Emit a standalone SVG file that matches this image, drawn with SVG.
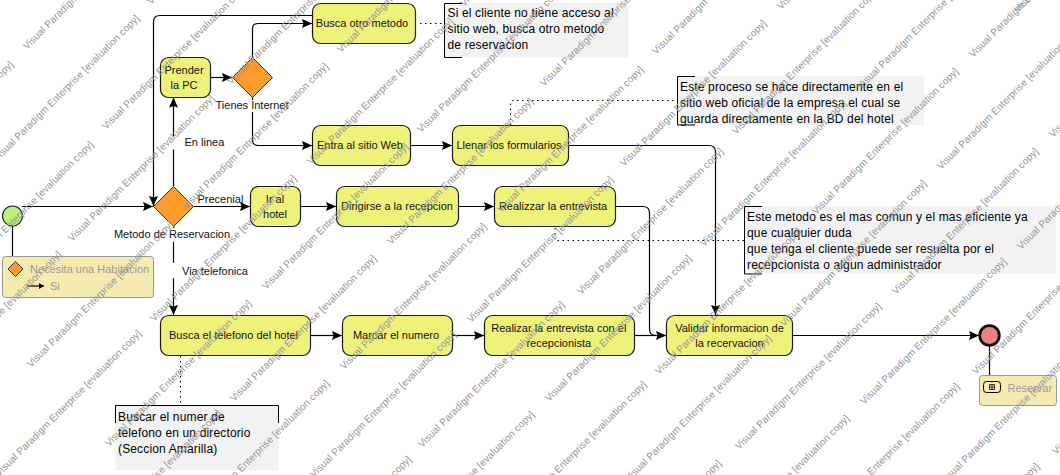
<svg xmlns="http://www.w3.org/2000/svg" width="1060" height="475" viewBox="0 0 1060 475">
<style>
text{font-family:"Liberation Sans",Arial,sans-serif;font-size:11px;fill:#111}
.task{fill:#EFF27A;stroke:#1a1a1a;stroke-width:1.2}
.gw{fill:#FF9A2B;stroke:#333;stroke-width:1}
.c{fill:none;stroke:#000;stroke-width:1.2}
.a{marker-end:url(#arr)}
.d{fill:none;stroke:#000;stroke-width:1;stroke-dasharray:1.5 3.5}
.mid{text-anchor:middle}
.nb{fill:#F2F2F2}
.nl{fill:none;stroke:#000;stroke-width:1}
.nt{font-size:12px;letter-spacing:.15px;fill:#000}
.tb{fill:#F5EBB0;stroke:#999;stroke-width:1}
.gr{fill:#999}
.wm{font-size:10px;letter-spacing:.08px;fill:#979797;text-anchor:end}
</style>
<defs>
<marker id="arr" markerUnits="userSpaceOnUse" markerWidth="11" markerHeight="10" refX="10" refY="4.5" orient="auto"><path d="M0 0L10 4.5L0 9L1.5 4.5Z" fill="#000"/></marker>
<marker id="arrs" markerUnits="userSpaceOnUse" markerWidth="7" markerHeight="7" refX="5" refY="3" orient="auto"><path d="M0 0L5 3L0 6Z" fill="#000"/></marker>
</defs>
<g id="connectors">
<path class="c a" d="M22 206.500H153"/>
<path class="c a" d="M173.500 186V149.500M173.500 136.500V97.500"/>
<path class="c a" d="M210.500 77.500H232"/>
<path class="c a" d="M252.500 57V29Q252.500 23.500 258 23.500H312"/>
<path class="c a" d="M252.500 97V100M252.500 112V139.500Q252.500 145.500 258 145.500H312"/>
<path class="c a" d="M312.500 15.500H160Q153.500 15.500 153.500 22V206"/>
<path class="c a" d="M193 206.500H250"/>
<path class="c a" d="M300.500 206.500H336"/>
<path class="c a" d="M458.500 206.500H494"/>
<path class="c a" d="M410.500 145.500H452"/>
<path class="c a" d="M568.500 145.500H709Q715.500 145.500 715.500 152V315"/>
<path class="c a" d="M615.500 206.500H643Q649.500 206.500 649.500 213V329Q649.500 335.500 656 335.500H666"/>
<path class="c a" d="M173.500 226V228M173.500 241.700V262.700M173.500 278.300V315"/>
<path class="c a" d="M310.500 335.500H342"/>
<path class="c a" d="M452.500 335.500H484"/>
<path class="c" d="M634.500 335.500H666"/>
<path class="c a" d="M792.500 335.500H979"/>
<path class="c" d="M12.500 226V257"/>
<path class="c" d="M989.500 345V376"/>
<path class="d" d="M420 23.500H444"/>
<path class="d" d="M510.500 125V103Q510.500 100.500 513 100.500H677"/>
<path class="d" d="M555 228V240.500H744"/>
<path class="d" d="M180.500 356V405"/>
</g>
<g id="start"><circle cx="12.500" cy="216" r="10" fill="#BDEF7C" stroke="#222" stroke-width="1.200"/></g>
<g id="condition">
<rect class="tb" x="2.500" y="256.500" width="151" height="41" rx="3"/>
<path class="gw" d="M15.500 261.500L23 269L15.500 276.500L8 269Z"/>
<text class="gr" x="30" y="273">Necesita una Habitacion</text>
<path class="c" style="marker-end:url(#arrs)" d="M27 286H44"/>
<text class="gr" x="50" y="290">Si</text>
</g>
<g id="gw-metodo"><path class="gw" d="M173.500 186.500L193.500 206.500L173.500 226.500L153.500 206.500Z"/>
<text class="mid" x="172" y="238">Metodo de Reservacion</text></g>
<g id="lbl-enlinea"><text x="184.500" y="146">En linea</text></g>
<g id="lbl-precenial"><text x="197.500" y="203">Precenial</text></g>
<g id="lbl-via"><text x="182" y="275">Via telefonica</text></g>
<g id="t-prender"><rect class="task" x="160.500" y="57.500" width="50" height="40" rx="8"/>
<text class="mid" x="184" y="74">Prender</text><text class="mid" x="184" y="89">la PC</text></g>
<g id="gw-internet"><path class="gw" d="M252.500 57.500L272.500 77.500L252.500 97.500L232.500 77.500Z"/>
<text class="mid" x="252" y="109">Tienes Internet</text></g>
<g id="t-busca"><rect class="task" x="312.500" y="3.500" width="103" height="40" rx="8"/>
<text class="mid" x="362" y="27">Busca otro metodo</text></g>
<g id="t-entra"><rect class="task" x="312.500" y="125.500" width="98" height="40" rx="8"/>
<text class="mid" x="360" y="149">Entra al sitio Web</text></g>
<g id="t-llenar"><rect class="task" x="452.500" y="125.500" width="116" height="40" rx="8"/>
<text class="mid" x="509" y="149">Llenar los formularios</text></g>
<g id="t-ir"><rect class="task" x="250.500" y="186.500" width="50" height="40" rx="8"/>
<text class="mid" x="275" y="203">Ir al</text><text class="mid" x="275" y="218">hotel</text></g>
<g id="t-dirigirse"><rect class="task" x="336.500" y="186.500" width="122" height="40" rx="8"/>
<text class="mid" x="397" y="210">Dirigirse a la recepcion</text></g>
<g id="t-realizzar"><rect class="task" x="494.500" y="186.500" width="121" height="40" rx="8"/>
<text class="mid" x="553" y="210">Realizzar la entrevista</text></g>
<g id="t-telefono"><rect class="task" x="160.500" y="315.500" width="150" height="40" rx="8"/>
<text class="mid" x="233.500" y="339">Busca el telefono del hotel</text></g>
<g id="t-marcar"><rect class="task" x="342.500" y="315.500" width="110" height="40" rx="8"/>
<text class="mid" x="396" y="339">Marcar el numero</text></g>
<g id="t-entrevista"><rect class="task" x="484.500" y="315.500" width="150" height="40" rx="8"/>
<text class="mid" x="558.800" y="332">Realizar la entrevista con el</text><text class="mid" x="558.800" y="347">recepcionista</text></g>
<g id="t-validar"><rect class="task" x="666.500" y="315.500" width="126" height="40" rx="8"/>
<text class="mid" x="729.500" y="332">Validar informacion de</text><text class="mid" x="729.500" y="347">la recervacion</text></g>
<g id="end"><circle cx="989.500" cy="335.500" r="9.800" fill="#F28080" stroke="#111" stroke-width="2.800"/></g>
<g id="result">
<rect class="tb" x="979.500" y="375.500" width="77" height="30" rx="3"/>
<rect x="983.500" y="381.500" width="17" height="11" rx="3" fill="#F5EBB0" stroke="#000"/>
<path d="M989.500 384.500h5v5h-5zM992 384.500v5M989.500 387h5" fill="none" stroke="#000" stroke-width=".8"/>
<text class="gr" x="1007.500" y="392">Reservar</text>
</g>
<g id="note-otro"><rect class="nb" x="444.500" y="3" width="184" height="54.500"/>
<path class="nl" d="M462 3.500H444.500V57.500H462"/>
<text class="nt" x="447.500" y="17">Si el cliente no tiene acceso al</text>
<text class="nt" x="447.500" y="33">sitio web, busca otro metodo</text>
<text class="nt" x="447.500" y="49">de reservacion</text></g>
<g id="note-web"><rect class="nb" x="677.500" y="76" width="246.500" height="49"/>
<path class="nl" d="M695 76.500H677.500V125H695"/>
<text class="nt" x="680" y="91">Este proceso se hace directamente en el</text>
<text class="nt" x="680" y="107">sitio web oficial de la empresa el cual se</text>
<text class="nt" x="680" y="123">guarda directamente en la BD del hotel</text></g>
<g id="note-comun"><rect class="nb" x="744.500" y="206" width="311.500" height="68"/>
<path class="nl" d="M762 206.500H744.500V274H762"/>
<text class="nt" x="747" y="221">Este metodo es el mas comun y el mas eficiente ya</text>
<text class="nt" x="747" y="237">que cualquier duda</text>
<text class="nt" x="747" y="253">que tenga el cliente puede ser resuelta por el</text>
<text class="nt" x="747" y="269">recepcionista o algun administrador</text></g>
<g id="note-directorio"><rect class="nb" x="115" y="405.500" width="163.500" height="65"/>
<path class="nl" d="M115.500 423V405.500H278.500V423"/>
<text class="nt" x="118" y="421">Buscar el numer de</text>
<text class="nt" x="118" y="437">telefono en un directorio</text>
<text class="nt" x="118" y="453">(Seccion Amarilla)</text></g>
<g id="watermark">
<text class="wm" transform="translate(62 255) rotate(-45)">Visual Paradigm Enterprise [evaluation copy]</text>
<text class="wm" transform="translate(142 334) rotate(-45)">Visual Paradigm Enterprise [evaluation copy]</text>
<text class="wm" transform="translate(222 414) rotate(-45)">Visual Paradigm Enterprise [evaluation copy]</text>
<text class="wm" transform="translate(14 65) rotate(-45)">Visual Paradigm Enterprise [evaluation copy]</text>
<text class="wm" transform="translate(94 145) rotate(-45)">Visual Paradigm Enterprise [evaluation copy]</text>
<text class="wm" transform="translate(174 225) rotate(-45)">Visual Paradigm Enterprise [evaluation copy]</text>
<text class="wm" transform="translate(252 304) rotate(-45)">Visual Paradigm Enterprise [evaluation copy]</text>
<text class="wm" transform="translate(330 384) rotate(-45)">Visual Paradigm Enterprise [evaluation copy]</text>
<text class="wm" transform="translate(412 460) rotate(-45)">Visual Paradigm Enterprise [evaluation copy]</text>
<text class="wm" transform="translate(140 19) rotate(-45)">Visual Paradigm Enterprise [evaluation copy]</text>
<text class="wm" transform="translate(215 99) rotate(-45)">Visual Paradigm Enterprise [evaluation copy]</text>
<text class="wm" transform="translate(297 179) rotate(-45)">Visual Paradigm Enterprise [evaluation copy]</text>
<text class="wm" transform="translate(377 259) rotate(-45)">Visual Paradigm Enterprise [evaluation copy]</text>
<text class="wm" transform="translate(457 335) rotate(-45)">Visual Paradigm Enterprise [evaluation copy]</text>
<text class="wm" transform="translate(535 415) rotate(-45)">Visual Paradigm Enterprise [evaluation copy]</text>
<text class="wm" transform="translate(170 -93) rotate(-45)">Visual Paradigm Enterprise [evaluation copy]</text>
<text class="wm" transform="translate(249 -13) rotate(-45)">Visual Paradigm Enterprise [evaluation copy]</text>
<text class="wm" transform="translate(329 67) rotate(-45)">Visual Paradigm Enterprise [evaluation copy]</text>
<text class="wm" transform="translate(409 147) rotate(-45)">Visual Paradigm Enterprise [evaluation copy]</text>
<text class="wm" transform="translate(487 227) rotate(-45)">Visual Paradigm Enterprise [evaluation copy]</text>
<text class="wm" transform="translate(565 305) rotate(-45)">Visual Paradigm Enterprise [evaluation copy]</text>
<text class="wm" transform="translate(647 385) rotate(-45)">Visual Paradigm Enterprise [evaluation copy]</text>
<text class="wm" transform="translate(722 464) rotate(-45)">Visual Paradigm Enterprise [evaluation copy]</text>
<text class="wm" transform="translate(294 -138) rotate(-45)">Visual Paradigm Enterprise [evaluation copy]</text>
<text class="wm" transform="translate(374 -58) rotate(-45)">Visual Paradigm Enterprise [evaluation copy]</text>
<text class="wm" transform="translate(454 22) rotate(-45)">Visual Paradigm Enterprise [evaluation copy]</text>
<text class="wm" transform="translate(534 102) rotate(-45)">Visual Paradigm Enterprise [evaluation copy]</text>
<text class="wm" transform="translate(614 180) rotate(-45)">Visual Paradigm Enterprise [evaluation copy]</text>
<text class="wm" transform="translate(692 259) rotate(-45)">Visual Paradigm Enterprise [evaluation copy]</text>
<text class="wm" transform="translate(772 339) rotate(-45)">Visual Paradigm Enterprise [evaluation copy]</text>
<text class="wm" transform="translate(850 419) rotate(-45)">Visual Paradigm Enterprise [evaluation copy]</text>
<text class="wm" transform="translate(484 -90) rotate(-45)">Visual Paradigm Enterprise [evaluation copy]</text>
<text class="wm" transform="translate(564 -10) rotate(-45)">Visual Paradigm Enterprise [evaluation copy]</text>
<text class="wm" transform="translate(644 70) rotate(-45)">Visual Paradigm Enterprise [evaluation copy]</text>
<text class="wm" transform="translate(724 152) rotate(-45)">Visual Paradigm Enterprise [evaluation copy]</text>
<text class="wm" transform="translate(802 232) rotate(-45)">Visual Paradigm Enterprise [evaluation copy]</text>
<text class="wm" transform="translate(882 307) rotate(-45)">Visual Paradigm Enterprise [evaluation copy]</text>
<text class="wm" transform="translate(960 387) rotate(-45)">Visual Paradigm Enterprise [evaluation copy]</text>
<text class="wm" transform="translate(1040 467) rotate(-45)">Visual Paradigm Enterprise [evaluation copy]</text>
<text class="wm" transform="translate(607 -136) rotate(-45)">Visual Paradigm Enterprise [evaluation copy]</text>
<text class="wm" transform="translate(687 -56) rotate(-45)">Visual Paradigm Enterprise [evaluation copy]</text>
<text class="wm" transform="translate(767 24) rotate(-45)">Visual Paradigm Enterprise [evaluation copy]</text>
<text class="wm" transform="translate(847 104) rotate(-45)">Visual Paradigm Enterprise [evaluation copy]</text>
<text class="wm" transform="translate(927 184) rotate(-45)">Visual Paradigm Enterprise [evaluation copy]</text>
<text class="wm" transform="translate(1007 262) rotate(-45)">Visual Paradigm Enterprise [evaluation copy]</text>
<text class="wm" transform="translate(1087 342) rotate(-45)">Visual Paradigm Enterprise [evaluation copy]</text>
<text class="wm" transform="translate(799 -88) rotate(-45)">Visual Paradigm Enterprise [evaluation copy]</text>
<text class="wm" transform="translate(879 -8) rotate(-45)">Visual Paradigm Enterprise [evaluation copy]</text>
<text class="wm" transform="translate(959 72) rotate(-45)">Visual Paradigm Enterprise [evaluation copy]</text>
<text class="wm" transform="translate(1039 152) rotate(-45)">Visual Paradigm Enterprise [evaluation copy]</text>
<text class="wm" transform="translate(1119 232) rotate(-45)">Visual Paradigm Enterprise [evaluation copy]</text>
<text class="wm" transform="translate(1199 312) rotate(-45)">Visual Paradigm Enterprise [evaluation copy]</text>
<text class="wm" transform="translate(924 -133) rotate(-45)">Visual Paradigm Enterprise [evaluation copy]</text>
<text class="wm" transform="translate(1004 -53) rotate(-45)">Visual Paradigm Enterprise [evaluation copy]</text>
<text class="wm" transform="translate(1084 27) rotate(-45)">Visual Paradigm Enterprise [evaluation copy]</text>
<text class="wm" transform="translate(1164 107) rotate(-45)">Visual Paradigm Enterprise [evaluation copy]</text>
<text class="wm" transform="translate(1116 -85) rotate(-45)">Visual Paradigm Enterprise [evaluation copy]</text>
<text class="wm" transform="translate(1196 -5) rotate(-45)">Visual Paradigm Enterprise [evaluation copy]</text>
<text class="wm" transform="translate(1161 -130) rotate(-45)">Visual Paradigm Enterprise [evaluation copy]</text>
</g>
</svg>
